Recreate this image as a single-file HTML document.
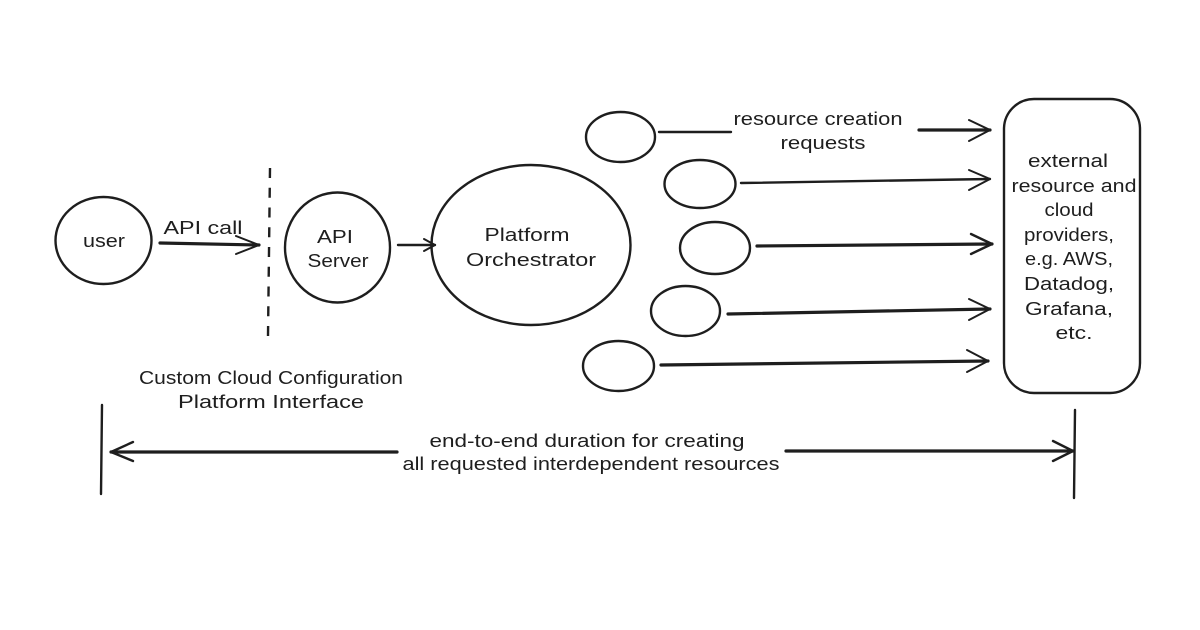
<!DOCTYPE html>
<html>
<head>
<meta charset="utf-8">
<style>
html,body{margin:0;padding:0;background:#fff;width:1200px;height:630px;overflow:hidden}
svg{display:block}
text{font-family:"Liberation Sans",sans-serif;font-size:18px;fill:#1e1e1e;text-anchor:middle}
.s{fill:none;stroke:#1e1e1e;stroke-width:2.4;stroke-linecap:round;stroke-linejoin:round}
.t{fill:none;stroke:#1e1e1e;stroke-width:3.2;stroke-linecap:round;stroke-linejoin:round}
.b{fill:none;stroke:#1e1e1e;stroke-width:2;stroke-linecap:round;stroke-linejoin:round}
</style>
</head>
<body>
<svg width="1200" height="630" viewBox="0 0 1200 630" xmlns="http://www.w3.org/2000/svg">
<rect width="1200" height="630" fill="#fff"/>

<!-- nodes -->
<ellipse class="s" cx="103.500" cy="240.500" rx="48" ry="43.500"/>
<ellipse class="s" cx="337.500" cy="247.500" rx="52.500" ry="55"/>
<ellipse class="s" cx="531" cy="245" rx="99.500" ry="80"/>
<ellipse class="s" cx="620.500" cy="137" rx="34.500" ry="25"/>
<ellipse class="s" cx="700" cy="184" rx="35.500" ry="24"/>
<ellipse class="s" cx="715" cy="248" rx="35" ry="26"/>
<ellipse class="s" cx="685.500" cy="311" rx="34.500" ry="25"/>
<ellipse class="s" cx="618.500" cy="366" rx="35.500" ry="25"/>
<rect class="s" x="1004" y="99" width="136" height="294" rx="30" ry="30"/>

<!-- dashed separator -->
<path class="s" d="M270 168L268 336" stroke-dasharray="10 9.750" style="stroke-linecap:butt"/>

<!-- arrows -->
<path class="t" d="M160 243L259 245"/><path class="b" d="M236 236L259 245L236 254"/>
<path class="s" d="M398 245L435 245"/><path class="b" d="M424 239L435 245L424 251"/>
<path class="s" d="M659 132L731 132"/>
<path class="t" d="M919 130L990 130"/><path class="b" d="M969 120L990 130L969 141"/>
<path class="s" d="M741 183L990 179"/><path class="b" d="M969 170L990 179L969 190"/>
<path class="t" d="M757 246L992 244"/><path class="s" d="M971 234L992 244L971 254"/>
<path class="t" d="M728 314L990 309"/><path class="b" d="M969 299L990 309L969 320"/>
<path class="t" d="M661 365L988 361"/><path class="b" d="M967 350L988 361L967 372"/>

<!-- duration -->
<path class="s" d="M102 405L101 494"/>
<path class="s" d="M1075 410L1074 498"/>
<path class="t" d="M397 452L111 452"/><path class="s" d="M133 442L111 452L133 461"/>
<path class="t" d="M786 451L1073 451"/><path class="s" d="M1053 441L1073 451L1053 461"/>

<!-- labels -->
<text x="104" y="247" textLength="42" lengthAdjust="spacingAndGlyphs">user</text>
<text x="203" y="234" textLength="79" lengthAdjust="spacingAndGlyphs">API call</text>
<text x="335" y="243" textLength="36" lengthAdjust="spacingAndGlyphs">API</text>
<text x="338" y="267" textLength="61" lengthAdjust="spacingAndGlyphs">Server</text>
<text x="527" y="241" textLength="85" lengthAdjust="spacingAndGlyphs">Platform</text>
<text x="531" y="266" textLength="130" lengthAdjust="spacingAndGlyphs">Orchestrator</text>
<text x="818" y="125" textLength="169" lengthAdjust="spacingAndGlyphs">resource creation</text>
<text x="823" y="149" textLength="85" lengthAdjust="spacingAndGlyphs">requests</text>
<text x="1068" y="167" textLength="80" lengthAdjust="spacingAndGlyphs">external</text>
<text x="1074" y="192" textLength="125" lengthAdjust="spacingAndGlyphs">resource and</text>
<text x="1069" y="216" textLength="49" lengthAdjust="spacingAndGlyphs">cloud</text>
<text x="1069" y="241" textLength="90" lengthAdjust="spacingAndGlyphs">providers,</text>
<text x="1069" y="265" textLength="88" lengthAdjust="spacingAndGlyphs">e.g. AWS,</text>
<text x="1069" y="290" textLength="90" lengthAdjust="spacingAndGlyphs">Datadog,</text>
<text x="1069" y="315" textLength="88" lengthAdjust="spacingAndGlyphs">Grafana,</text>
<text x="1074" y="339" textLength="37" lengthAdjust="spacingAndGlyphs">etc.</text>
<text x="271" y="384" textLength="264" lengthAdjust="spacingAndGlyphs">Custom Cloud Configuration</text>
<text x="271" y="408" textLength="186" lengthAdjust="spacingAndGlyphs">Platform Interface</text>
<text x="587" y="447" textLength="315" lengthAdjust="spacingAndGlyphs">end-to-end duration for creating</text>
<text x="591" y="470" textLength="377" lengthAdjust="spacingAndGlyphs">all requested interdependent resources</text>
</svg>
</body>
</html>
